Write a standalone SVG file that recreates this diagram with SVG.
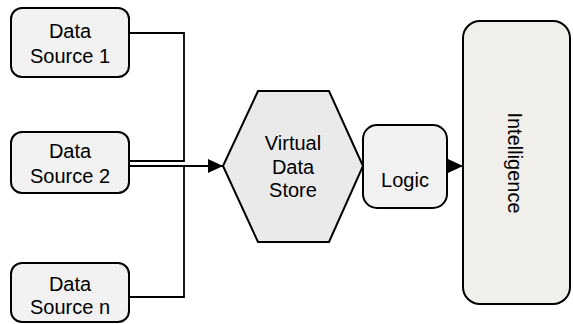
<svg xmlns="http://www.w3.org/2000/svg" width="573" height="324" viewBox="0 0 573 324">
  <defs>
    <pattern id="dots" width="4" height="4" patternUnits="userSpaceOnUse">
      <rect width="4" height="4" fill="#f1f1f1"/>
      <rect x="1" y="1" width="1" height="1" fill="#fbfbfb"/>
    </pattern>
    <pattern id="dots2" width="4" height="4" patternUnits="userSpaceOnUse">
      <rect width="4" height="4" fill="#e9e9e9"/>
      <rect x="1" y="1" width="1" height="1" fill="#f8f8f8"/>
    </pattern>
    <pattern id="hatch" width="4" height="4" patternUnits="userSpaceOnUse">
      <rect width="4" height="4" fill="#efeee8"/>
      <rect x="0" y="0" width="1" height="1" fill="#f8f7f3"/>
      <rect x="2" y="2" width="1" height="1" fill="#f8f7f3"/>
    </pattern>
    <marker id="arrow" markerWidth="15" markerHeight="14" refX="15" refY="7" orient="auto" markerUnits="userSpaceOnUse">
      <path d="M0,0 L15,7 L0,14 Z" fill="#000"/>
    </marker>
  </defs>
  <style>
    .box { stroke: #000; stroke-width: 2; fill: url(#dots); }
    .hex { stroke: #000; stroke-width: 2; fill: url(#dots2); }
    .intel { stroke: #000; stroke-width: 2; fill: url(#hatch); }
    .conn { stroke: #000; stroke-width: 1.8; fill: none; }
    text { font-family: "Liberation Sans", Arial, sans-serif; font-size: 20px; fill: #000; text-anchor: middle; }
  </style>

  <g id="connectors">
    <path class="conn" d="M129,33 H184 V161 H129"/>
    <path class="conn" d="M129,297 H184 V166"/>
    <path class="conn" d="M129,166 H223" marker-end="url(#arrow)"/>
    <path class="conn" d="M447,166 H463" marker-end="url(#arrow)"/>
  </g>

  <g id="ds1">
    <rect class="box" x="11" y="8" width="118" height="69" rx="11"/>
    <text x="70" y="38">Data</text>
    <text x="70" y="63">Source 1</text>
  </g>
  <g id="ds2">
    <rect class="box" x="11" y="132" width="118" height="61" rx="11"/>
    <text x="70" y="158">Data</text>
    <text x="70" y="183">Source 2</text>
  </g>
  <g id="dsn">
    <rect class="box" x="11" y="263" width="118" height="59" rx="11"/>
    <text x="70" y="291">Data</text>
    <text x="70" y="314">Source n</text>
  </g>
  <g id="vds">
    <polygon class="hex" points="223,166 258,91 329,91 363,166 329,242 258,242"/>
    <text x="293" y="150">Virtual</text>
    <text x="293" y="174">Data</text>
    <text x="293" y="197">Store</text>
  </g>
  <g id="logic">
    <rect class="box" x="363" y="125" width="84" height="83" rx="14"/>
    <text x="405" y="187">Logic</text>
  </g>
  <g id="intelligence">
    <rect class="intel" x="463" y="21" width="107" height="283" rx="17"/>
    <text transform="translate(514,163) rotate(90)" x="0" y="6">Intelligence</text>
  </g>
</svg>
